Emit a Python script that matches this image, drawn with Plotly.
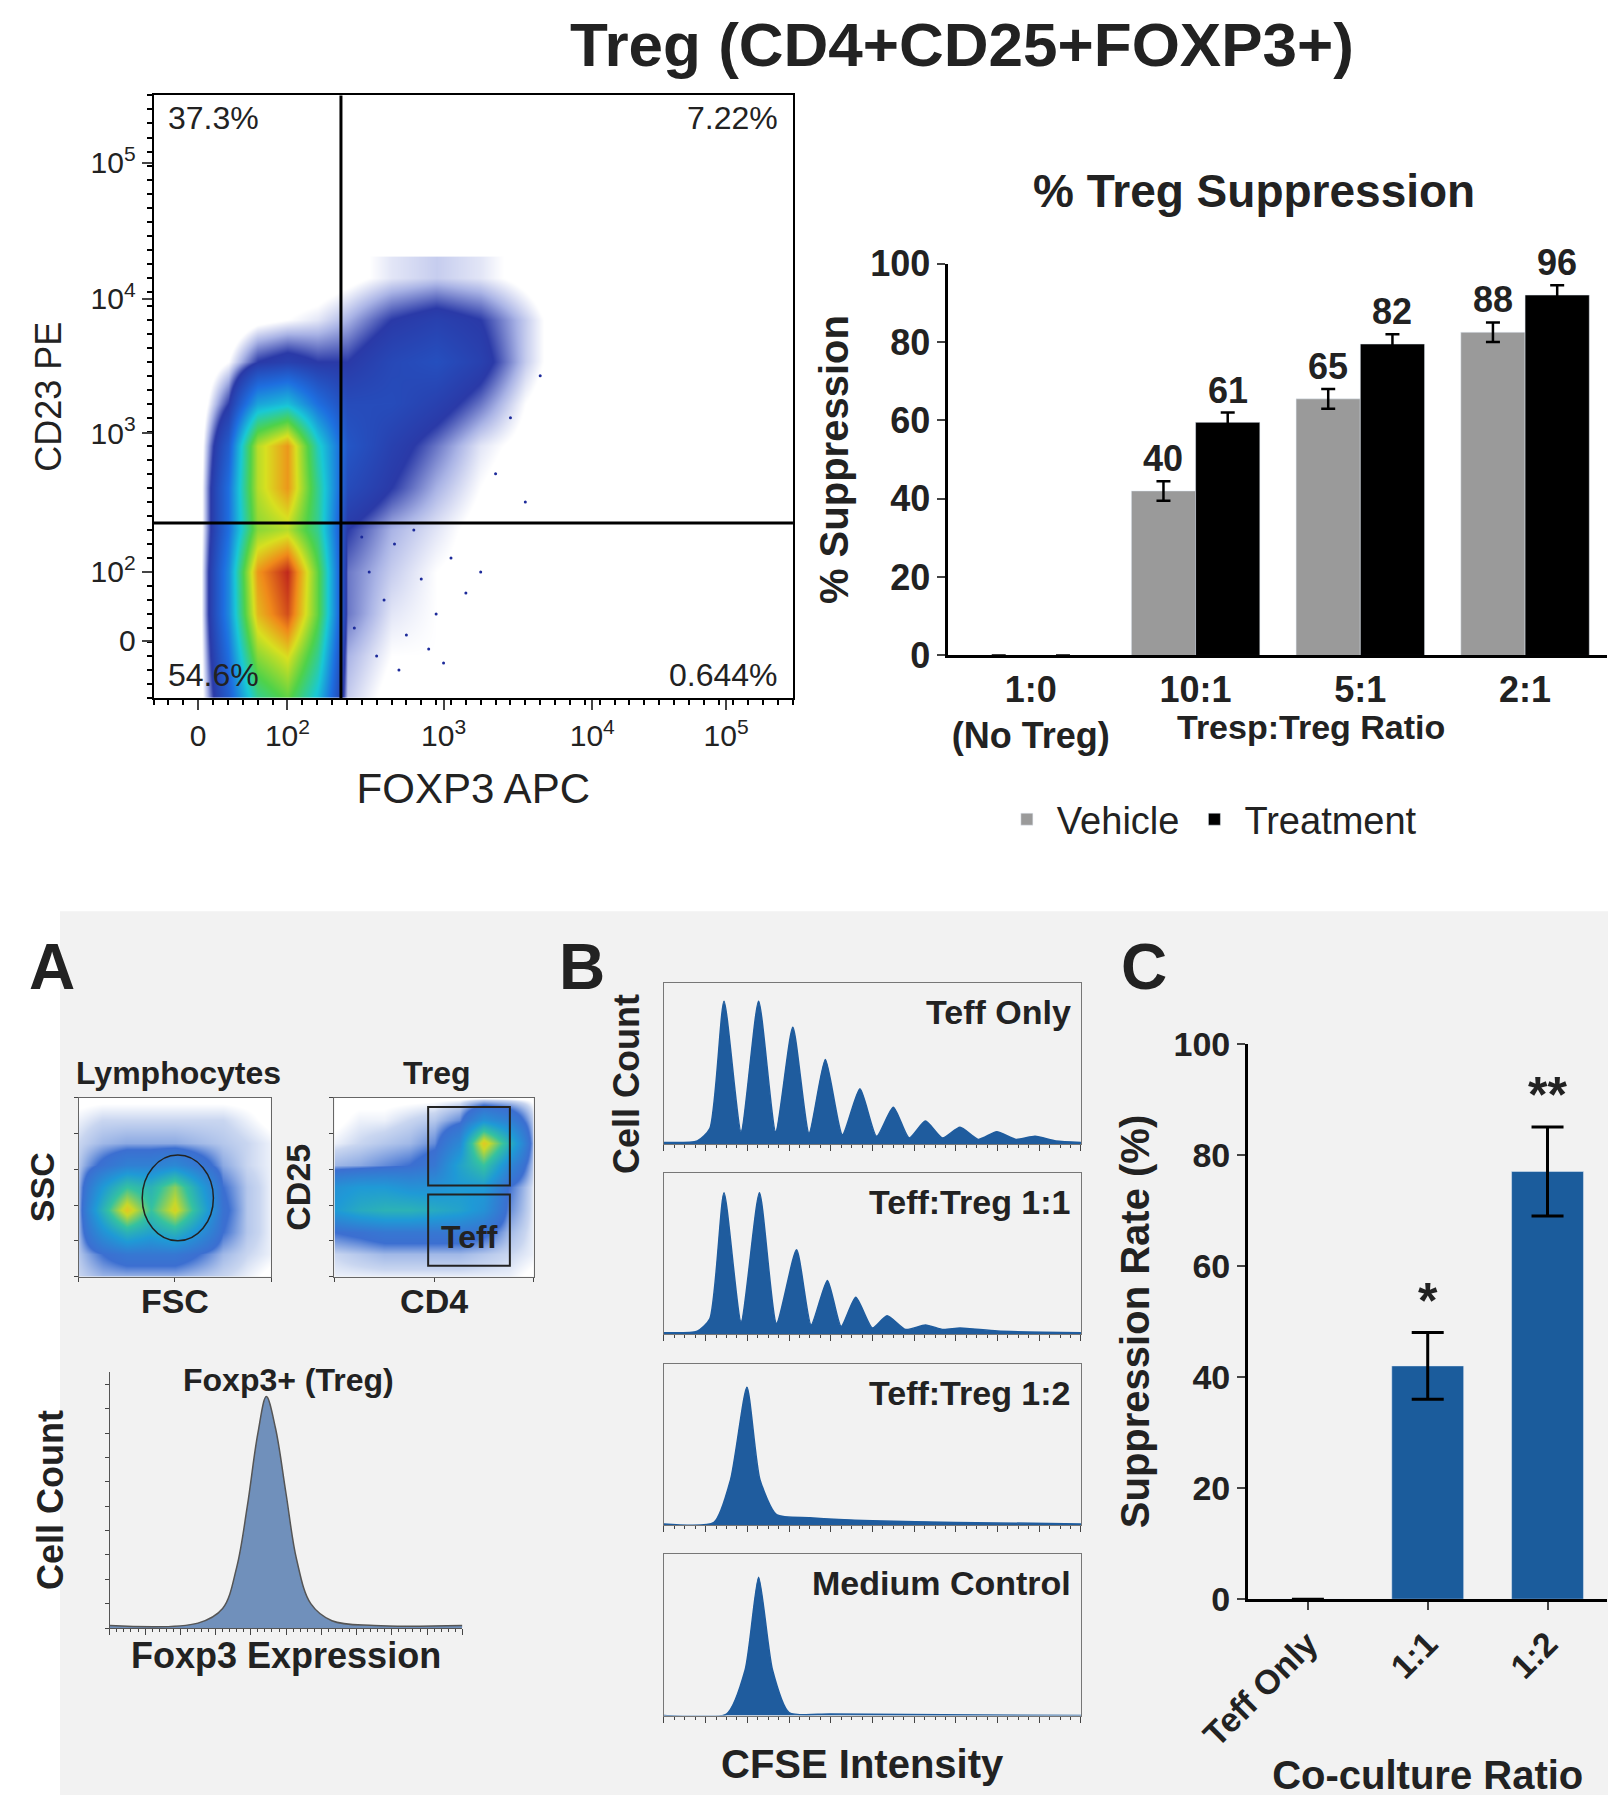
import plotly.graph_objects as go

W, H = 1616, 1808
S, OX, OY = 0.855, 32, 18
def X(t): return ((t - 17.3) / 0.9826 - OX) / S
def Y(t): return ((t - 5.6) / 0.992 - OY) / S
def dx(a, b): return [max(0, X(a) / W), min(1, X(b) / W)]
def dy(t, b): return [max(0, 1 - Y(b) / H), min(1, 1 - Y(t) / H)]

FONT = "Liberation Sans, Arial, sans-serif"

# ---------- top-left flow plot data ----------
flow_x = [0.3, 0.5, 0.7, 0.9, 1.1, 1.3, 1.6, 1.9, 2.2, 2.5, 2.8]
flow_y = [0, 0.3, 0.6, 0.9, 1.2, 1.5, 1.8, 2.1, 2.4, 2.7, 3.0]
flow_z = [
    [0, 0.2, 0.5, 0.6, 0.4, 0.05, 0.02, 0.02, 0.01, 0, 0],
    [0, 0.25, 0.65, 0.75, 0.5, 0.06, 0.03, 0.03, 0.02, 0.01, 0],
    [0, 0.3, 0.8, 0.95, 0.6, 0.08, 0.04, 0.03, 0.02, 0.01, 0],
    [0, 0.3, 0.85, 1.0, 0.6, 0.08, 0.05, 0.03, 0.02, 0.01, 0],
    [0, 0.25, 0.65, 0.7, 0.5, 0.1, 0.06, 0.04, 0.02, 0.01, 0],
    [0, 0.25, 0.7, 0.85, 0.5, 0.15, 0.1, 0.06, 0.03, 0.01, 0],
    [0, 0.2, 0.7, 0.85, 0.45, 0.18, 0.12, 0.08, 0.04, 0.02, 0],
    [0, 0.1, 0.35, 0.4, 0.25, 0.15, 0.15, 0.12, 0.08, 0.03, 0],
    [0, 0.03, 0.1, 0.12, 0.1, 0.1, 0.14, 0.16, 0.12, 0.05, 0],
    [0, 0, 0.02, 0.03, 0.04, 0.06, 0.1, 0.12, 0.1, 0.05, 0],
    [0, 0, 0, 0.01, 0.01, 0.02, 0.04, 0.05, 0.04, 0.02, 0],
]
dots_x = [1.35, 1.45, 1.55, 1.62, 1.7, 1.8, 1.9, 2.0, 2.1, 1.5, 1.65, 1.85, 1.4, 1.75, 2.2, 1.95, 2.3, 2.4, 2.6, 2.5]
dots_y = [0.5, 0.9, 0.7, 1.1, 0.45, 0.85, 0.6, 1.0, 0.75, 0.3, 0.2, 0.35, 1.15, 1.2, 0.9, 0.25, 1.6, 2.0, 2.3, 1.4]
flow_xticks = [0.3, 0.9, 1.95, 2.95, 3.85]
flow_yticks = [0.41, 0.9, 1.89, 2.85, 3.82]
flow_ticktext = ["0", "10<sup>2</sup>", "10<sup>3</sup>", "10<sup>4</sup>", "10<sup>5</sup>"]
gate_x, gate_y = 1.26, 1.25
quad_labels = ["37.3%", "7.22%", "54.6%", "0.644%"]

# ---------- top-right bar chart ----------
ratio_cats = ["1:0<br>(No Treg)", "10:1", "5:1", "2:1"]
vehicle = [0, 42, 65.5, 82.5]
treatment = [0, 59.5, 79.5, 92]
vehicle_err = [0, 2.5, 2.5, 2.5]
treatment_err = [0, 2.5, 2.5, 2.5]
vehicle_lbl = ["", "40", "65", "88"]
treatment_lbl = ["", "61", "82", "96"]

# ---------- panel A small plots ----------
g9 = [0, 1.25, 2.5, 3.75, 5, 6.25, 7.5, 8.75, 10]
lym_z = [
    [0.03, 0.05, 0.05, 0.05, 0.05, 0.04, 0.03, 0.02, 0.01],
    [0.04, 0.1, 0.15, 0.15, 0.15, 0.1, 0.05, 0.03, 0.02],
    [0.05, 0.3, 0.5, 0.4, 0.5, 0.3, 0.1, 0.04, 0.02],
    [0.05, 0.5, 0.95, 0.6, 0.9, 0.5, 0.12, 0.04, 0.02],
    [0.05, 0.35, 0.6, 0.5, 0.75, 0.4, 0.1, 0.04, 0.02],
    [0.04, 0.12, 0.2, 0.2, 0.25, 0.15, 0.06, 0.03, 0.02],
    [0.03, 0.05, 0.06, 0.06, 0.06, 0.05, 0.04, 0.03, 0.02],
    [0.02, 0.03, 0.03, 0.03, 0.03, 0.03, 0.03, 0.02, 0.01],
    [0.01, 0.01, 0.01, 0.01, 0.01, 0.01, 0.01, 0.01, 0.01],
]
treg_z = [
    [0.02, 0.02, 0.02, 0.02, 0.02, 0.02, 0.02, 0.02, 0.01],
    [0.03, 0.04, 0.05, 0.05, 0.05, 0.05, 0.04, 0.03, 0.02],
    [0.1, 0.12, 0.15, 0.15, 0.15, 0.15, 0.12, 0.05, 0.02],
    [0.35, 0.45, 0.5, 0.5, 0.45, 0.4, 0.3, 0.08, 0.02],
    [0.3, 0.35, 0.35, 0.3, 0.3, 0.35, 0.35, 0.1, 0.02],
    [0.05, 0.06, 0.08, 0.1, 0.15, 0.4, 0.6, 0.25, 0.03],
    [0.02, 0.03, 0.04, 0.05, 0.08, 0.25, 0.95, 0.5, 0.04],
    [0.01, 0.02, 0.02, 0.03, 0.04, 0.08, 0.3, 0.2, 0.03],
    [0.01, 0.01, 0.01, 0.01, 0.01, 0.01, 0.01, 0.01, 0.01],
]
foxp3_x = [0, 25, 32, 36, 39, 42, 44.4, 47, 50, 53, 57, 63, 75, 100]
foxp3_y = [0.01, 0.02, 0.08, 0.25, 0.5, 0.8, 0.95, 0.82, 0.55, 0.28, 0.1, 0.03, 0.01, 0.01]

# ---------- panel B histograms ----------
hist_names = ["Teff Only", "Teff:Treg 1:1", "Teff:Treg 1:2", "Medium Control"]
hist_x = [
    [0, 8, 11, 14.4, 18.5, 22.7, 26.8, 30.9, 34.8, 38.7, 42.8, 47, 51, 55, 58.8, 62.7, 66.8, 71, 75.4, 79.8, 84.4, 89, 94, 100],
    [0, 8, 11, 14.4, 18.5, 22.9, 27, 31.8, 35.3, 39.2, 42.5, 46, 50, 53.5, 58, 62.7, 67, 71, 80, 100],
    [0, 12, 16, 19.9, 23, 27, 35, 50, 70, 100],
    [0, 15, 19.5, 22.7, 26, 30, 40, 100],
]
hist_y = [
    [0.01, 0.02, 0.1, 0.93, 0.08, 0.93, 0.08, 0.76, 0.07, 0.55, 0.06, 0.36, 0.05, 0.24, 0.04, 0.15, 0.04, 0.11, 0.03, 0.08, 0.03, 0.05, 0.02, 0.01],
    [0.01, 0.02, 0.1, 0.92, 0.08, 0.92, 0.07, 0.55, 0.06, 0.35, 0.05, 0.24, 0.04, 0.12, 0.03, 0.06, 0.03, 0.04, 0.02, 0.01],
    [0.01, 0.02, 0.3, 0.9, 0.3, 0.07, 0.05, 0.03, 0.02, 0.01],
    [0, 0.01, 0.3, 0.9, 0.3, 0.02, 0.01, 0],
]
hist_boxes = [(852, 992), (1017, 1157), (1183, 1323), (1348, 1488)]

# ---------- panel C ----------
c_cats = ["Teff Only", "1:1", "1:2"]
c_vals = [0, 42, 77]
c_err = [0, 6, 8]
c_stars = ["", "*", "**"]

fig = go.Figure()

flow_cs = [[0, "#ffffff"], [0.03, "#ffffff"], [0.06, "#aab4e6"], [0.1, "#2a3aa8"], [0.25, "#1e6fe0"],
           [0.42, "#19c9d6"], [0.58, "#4fd24a"], [0.74, "#d8e020"], [0.87, "#f08a1a"], [1, "#c0281c"]]
small_cs = [[0, "#ffffff"], [0.015, "#ffffff"], [0.03, "#c9d6f0"], [0.1, "#3c6fd1"], [0.35, "#1f9ad6"],
            [0.6, "#35c2a0"], [0.85, "#c8d82a"], [1, "#f0c020"]]

fig.add_trace(go.Heatmap(x=flow_x, y=flow_y, z=flow_z, colorscale=flow_cs, zmin=0, zmax=1,
                         zsmooth="best", showscale=False, xaxis="x", yaxis="y", hoverinfo="skip"))
fig.add_trace(go.Scatter(x=dots_x, y=dots_y, mode="markers", marker=dict(size=3, color="#1c2a9a"),
                         showlegend=False, xaxis="x", yaxis="y"))

fig.add_trace(go.Bar(x=ratio_cats, y=vehicle, name="Vehicle", marker_color="#9a9a9a",
                     error_y=dict(type="data", array=vehicle_err, color="black", thickness=2.5, width=7),
                     xaxis="x2", yaxis="y2"))
fig.add_trace(go.Bar(x=ratio_cats, y=treatment, name="Treatment", marker_color="#000000",
                     error_y=dict(type="data", array=treatment_err, color="black", thickness=2.5, width=7),
                     xaxis="x2", yaxis="y2"))

fig.add_trace(go.Heatmap(x=g9, y=g9, z=lym_z, colorscale=small_cs, zmin=0, zmax=1, zsmooth="best",
                         showscale=False, xaxis="x3", yaxis="y3", hoverinfo="skip"))
fig.add_trace(go.Heatmap(x=g9, y=g9, z=treg_z, colorscale=small_cs, zmin=0, zmax=1, zsmooth="best",
                         showscale=False, xaxis="x4", yaxis="y4", hoverinfo="skip"))
fig.add_trace(go.Scatter(x=foxp3_x, y=foxp3_y, mode="lines", line=dict(color="#555555", width=1.5, shape="spline"),
                         fill="tozeroy", fillcolor="#7090bb", showlegend=False, xaxis="x5", yaxis="y5"))
for i in range(4):
    fig.add_trace(go.Scatter(x=hist_x[i], y=hist_y[i], mode="lines",
                             line=dict(color="#1f5c9e", width=1.5, shape="spline", smoothing=0.6),
                             fill="tozeroy", fillcolor="#1f5c9e", showlegend=False,
                             xaxis=f"x{6+i}", yaxis=f"y{6+i}"))
fig.add_trace(go.Bar(x=c_cats, y=c_vals, marker_color="#1b5c9c", width=0.6, showlegend=False,
                     error_y=dict(type="data", array=c_err, color="black", thickness=3, width=16),
                     xaxis="x10", yaxis="y10"))

lay = dict(width=W, height=H, paper_bgcolor="white", plot_bgcolor="rgba(0,0,0,0)",
           margin=dict(l=0, r=0, t=0, b=0), font=dict(family=FONT, color="#222"),
           barmode="group", bargap=0.22, bargroupgap=0,
           legend=dict(orientation="h", x=X(862) / W, y=1 - Y(683) / H, xanchor="left", yanchor="top",
                       font=dict(size=38, family=FONT), itemwidth=50, bgcolor="rgba(0,0,0,0)"))

tick = dict(size=30, family=FONT, color="#222")
lay["xaxis"] = dict(domain=dx(130, 685), anchor="y", range=[0, 4.3], tickvals=flow_xticks, ticktext=flow_ticktext,
                    tickfont=tick, showline=True, linecolor="black", linewidth=2, mirror=True,
                    ticks="outside", ticklen=10, tickwidth=2, showgrid=False, zeroline=False,
                    minor=dict(ticks="outside", ticklen=5, dtick=0.1, tickcolor="black"),
                    title=dict(text="FOXP3 APC", font=dict(size=42), standoff=22))
lay["yaxis"] = dict(domain=dy(82, 605), anchor="x", range=[0, 4.3], tickvals=flow_yticks, ticktext=flow_ticktext,
                    tickfont=tick, showline=True, linecolor="black", linewidth=2, mirror=True,
                    ticks="outside", ticklen=10, tickwidth=2, showgrid=False, zeroline=False,
                    minor=dict(ticks="outside", ticklen=5, dtick=0.1, tickcolor="black"),
                    title=dict(text="CD23 PE", font=dict(size=36), standoff=18))
lay["xaxis2"] = dict(domain=dx(820, 1392), anchor="y2", showline=True, linecolor="black", linewidth=3,
                     tickfont=dict(size=36, family=FONT), ticks="", showgrid=False,
                     tickvals=ratio_cats, ticktext=[f"<b>{c}</b>" for c in ratio_cats])
lay["yaxis2"] = dict(domain=dy(228, 568), anchor="x2", range=[0, 100], dtick=20, showline=True, linecolor="black",
                     linewidth=3, ticks="outside", ticklen=8, tickwidth=2, showgrid=False, zeroline=False,
                     tickfont=dict(size=36, family=FONT), tickprefix="<b>", ticksuffix="</b>",
                     title=dict(text="<b>% Suppression</b>", font=dict(size=40), standoff=10))
small_ax = dict(showline=True, linecolor="#666", mirror=True, showticklabels=False, ticks="outside",
                ticklen=4, showgrid=False, zeroline=False, range=[0, 10])
st = dict(size=34)
lay["xaxis3"] = dict(domain=dx(65, 232), anchor="y3", **small_ax, title=dict(text="<b>FSC</b>", font=st, standoff=8))
lay["yaxis3"] = dict(domain=dy(952, 1107), anchor="x3", **small_ax, title=dict(text="<b>SSC</b>", font=st, standoff=8))
lay["xaxis4"] = dict(domain=dx(287, 460), anchor="y4", **small_ax, title=dict(text="<b>CD4</b>", font=st, standoff=8))
lay["yaxis4"] = dict(domain=dy(952, 1107), anchor="x4", **small_ax, title=dict(text="<b>CD25</b>", font=st, standoff=8))
lay["xaxis5"] = dict(domain=dx(92, 398), anchor="y5", range=[0, 100], showline=True, linecolor="#555", showticklabels=False,
                     ticks="outside", ticklen=6, dtick=10, minor=dict(ticks="outside", ticklen=3, dtick=2),
                     showgrid=False, zeroline=False,
                     title=dict(text="<b>Foxp3 Expression</b>", font=dict(size=36), standoff=8))
lay["yaxis5"] = dict(domain=dy(1190, 1412), anchor="x5", range=[0, 1.05], showline=True, linecolor="#555",
                     showticklabels=False, ticks="outside", ticklen=4, dtick=0.1, showgrid=False, zeroline=False,
                     title=dict(text="<b>Cell Count</b>", font=dict(size=36), standoff=30))
for i, (t, b) in enumerate(hist_boxes):
    lay[f"xaxis{6+i}"] = dict(domain=dx(573, 935), anchor=f"y{6+i}", range=[0, 100], showline=True, linecolor="#777",
                              mirror=True, showticklabels=False, ticks="outside", ticklen=6, dtick=10,
                              minor=dict(ticks="outside", ticklen=3, dtick=2.5), showgrid=False, zeroline=False)
    lay[f"yaxis{6+i}"] = dict(domain=dy(t, b), anchor=f"x{6+i}", range=[0, 1.05], showline=True, linecolor="#777",
                              mirror=True, showticklabels=False, ticks="", showgrid=False, zeroline=False)
lay["xaxis10"] = dict(domain=dx(1080, 1392), anchor="y10", showline=True, linecolor="black", linewidth=3, ticks="outside",
                      ticklen=8, tickwidth=2, tickangle=-45, tickfont=dict(size=34, family=FONT),
                      tickvals=c_cats, ticktext=[f"<b>{c}</b>" for c in c_cats],
                      showgrid=False, title=dict(text="<b>Co-culture Ratio</b>", font=dict(size=40), standoff=8))
lay["yaxis10"] = dict(domain=dy(905, 1387), anchor="x10", range=[0, 100], dtick=20, showline=True, linecolor="black",
                      linewidth=3, ticks="outside", ticklen=8, tickwidth=2, showgrid=False, zeroline=False,
                      tickfont=dict(size=34, family=FONT), tickprefix="<b>", ticksuffix="</b>",
                      title=dict(text="<b>Suppression Rate (%)</b>", font=dict(size=40), standoff=12))
fig.update_layout(**lay)

shapes = [
    dict(type="rect", xref="paper", yref="paper", x0=0, x1=1, y0=0, y1=1 - Y(790) / H,
         fillcolor="#f2f2f2", line_width=0, layer="below"),
    dict(type="line", xref="x", yref="y domain", x0=gate_x, x1=gate_x, y0=0, y1=1, line=dict(color="black", width=3)),
    dict(type="line", xref="x domain", yref="y", x0=0, x1=1, y0=gate_y, y1=gate_y, line=dict(color="black", width=3)),
    dict(type="circle", xref="x3", yref="y3", x0=3.3, x1=7.0, y0=2.0, y1=6.8, line=dict(color="#222", width=1.5)),
    dict(type="rect", xref="x4", yref="y4", x0=4.7, x1=8.8, y0=5.1, y1=9.5, line=dict(color="#222", width=2)),
    dict(type="rect", xref="x4", yref="y4", x0=4.7, x1=8.8, y0=0.6, y1=4.6, line=dict(color="#222", width=2)),
]
fig.update_layout(shapes=shapes)

ann = []
def A(text, x, y, size, bold=True, **kw):
    ann.append(dict(text=f"<b>{text}</b>" if bold else text, x=X(x) / W, y=1 - Y(y) / H, xref="paper", yref="paper",
                    xanchor="center", yanchor="middle",
                    showarrow=False, font=dict(size=size, family=FONT, color="#222"), **kw))

A("Treg (CD4+CD25+FOXP3+)", 832, 38, 62)
A("% Treg Suppression", 1085, 165, 46)
A("Tresp:Treg Ratio", 1135, 630, 34)
for txt, xa, ya, xan, yan in [(quad_labels[0], 0.02, 0.995, "left", "top"), (quad_labels[1], 0.98, 0.995, "right", "top"),
                              (quad_labels[2], 0.02, 0.005, "left", "bottom"), (quad_labels[3], 0.98, 0.005, "right", "bottom")]:
    ann.append(dict(text=txt, x=xa, y=ya, xref="x domain", yref="y domain", xanchor=xan, yanchor=yan,
                    showarrow=False, font=dict(size=32, family=FONT, color="#222")))
off = (1 - 0.22) / 4
for i in range(len(ratio_cats)):
    if vehicle_lbl[i]:
        ann.append(dict(text=f"<b>{vehicle_lbl[i]}</b>", x=i - off, y=vehicle[i] + vehicle_err[i], xref="x2", yref="y2",
                        yanchor="bottom", showarrow=False, font=dict(size=36, family=FONT, color="#222")))
    if treatment_lbl[i]:
        ann.append(dict(text=f"<b>{treatment_lbl[i]}</b>", x=i + off, y=treatment[i] + treatment_err[i], xref="x2", yref="y2",
                        yanchor="bottom", showarrow=False, font=dict(size=36, family=FONT, color="#222")))
A("A", 42, 838, 64)
A("B", 502, 838, 64)
A("C", 990, 838, 64)
A("Lymphocytes", 152, 930, 32)
A("Treg", 376, 930, 32)
A("Teff", 404, 1073, 32)
A("Foxp3+ (Treg)", 247, 1197, 32)
A("Cell Count", 540, 940, 36, textangle=-90)
A("CFSE Intensity", 745, 1530, 40)
for i, (t, b) in enumerate(hist_boxes):
    ann.append(dict(text=f"<b>{hist_names[i]}</b>", x=0.98, y=0.95, xref=f"x{6+i} domain", yref=f"y{6+i} domain",
                    xanchor="right", yanchor="top", showarrow=False, font=dict(size=34, family=FONT, color="#222")))
for i in range(len(c_cats)):
    if c_stars[i]:
        ann.append(dict(text=f"<b>{c_stars[i]}</b>", x=c_cats[i], y=c_vals[i] + c_err[i], xref="x10", yref="y10",
                        yanchor="bottom", yshift=2, showarrow=False, font=dict(size=50, family=FONT, color="#222")))
fig.update_layout(annotations=ann)

fig.write_html("out.html")
